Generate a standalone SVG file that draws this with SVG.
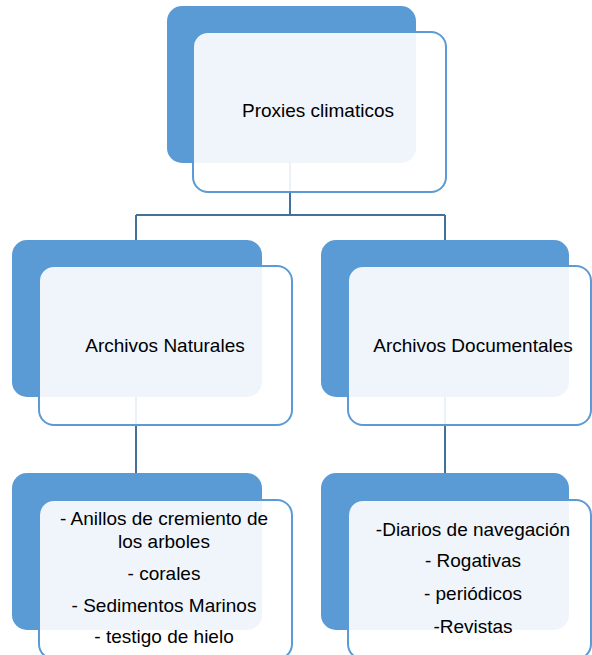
<svg xmlns="http://www.w3.org/2000/svg" width="592" height="655" viewBox="0 0 592 655">
<style>
.back{fill:#5B9BD5;}
.front{fill:#FFFFFF;fill-opacity:0.9;stroke:#5B9BD5;stroke-width:2;}
.conn{fill:none;stroke:#41719C;stroke-width:2;}
text{font-family:"Liberation Sans",Arial,sans-serif;font-size:19px;fill:#000;text-anchor:middle;}
</style>
<rect width="592" height="655" fill="#FFFFFF"/>
<g id="connectors">
<path class="conn" d="M290,163 V215 M136,215 H445 M136,215 V240 M445,215 V240"/>
<path class="conn" d="M136,397 V473"/>
<path class="conn" d="M445,397 V473"/>
</g>
<g id="proxies">
<rect class="back" x="167" y="6" width="249" height="157" rx="15"/>
<rect class="front" x="193" y="32" width="253" height="160" rx="15"/>
<text x="318" y="117">Proxies climaticos</text>
</g>
<g id="naturales">
<rect class="back" x="12" y="240" width="250" height="157" rx="15"/>
<rect class="front" x="39" y="266" width="253" height="159" rx="15"/>
<text x="165" y="352">Archivos Naturales</text>
</g>
<g id="documentales">
<rect class="back" x="321" y="240" width="248" height="157" rx="15"/>
<rect class="front" x="348" y="266" width="243" height="159" rx="15"/>
<text x="473" y="352">Archivos Documentales</text>
</g>
<g id="naturales-list">
<rect class="back" x="12" y="473" width="250" height="157" rx="15"/>
<rect class="front" x="39" y="500" width="253" height="159" rx="15"/>
<text x="164" y="525">- Anillos de cremiento de</text>
<text x="164" y="548">los arboles</text>
<text x="164" y="580">- corales</text>
<text x="164" y="612">- Sedimentos Marinos</text>
<text x="164" y="643">- testigo de hielo</text>
</g>
<g id="documentales-list">
<rect class="back" x="321" y="473" width="248" height="157" rx="15"/>
<rect class="front" x="348" y="500" width="243" height="159" rx="15"/>
<text x="473" y="536">-Diarios de navegación</text>
<text x="473" y="567">- Rogativas</text>
<text x="473" y="600">- periódicos</text>
<text x="473" y="633">-Revistas</text>
</g>
</svg>
